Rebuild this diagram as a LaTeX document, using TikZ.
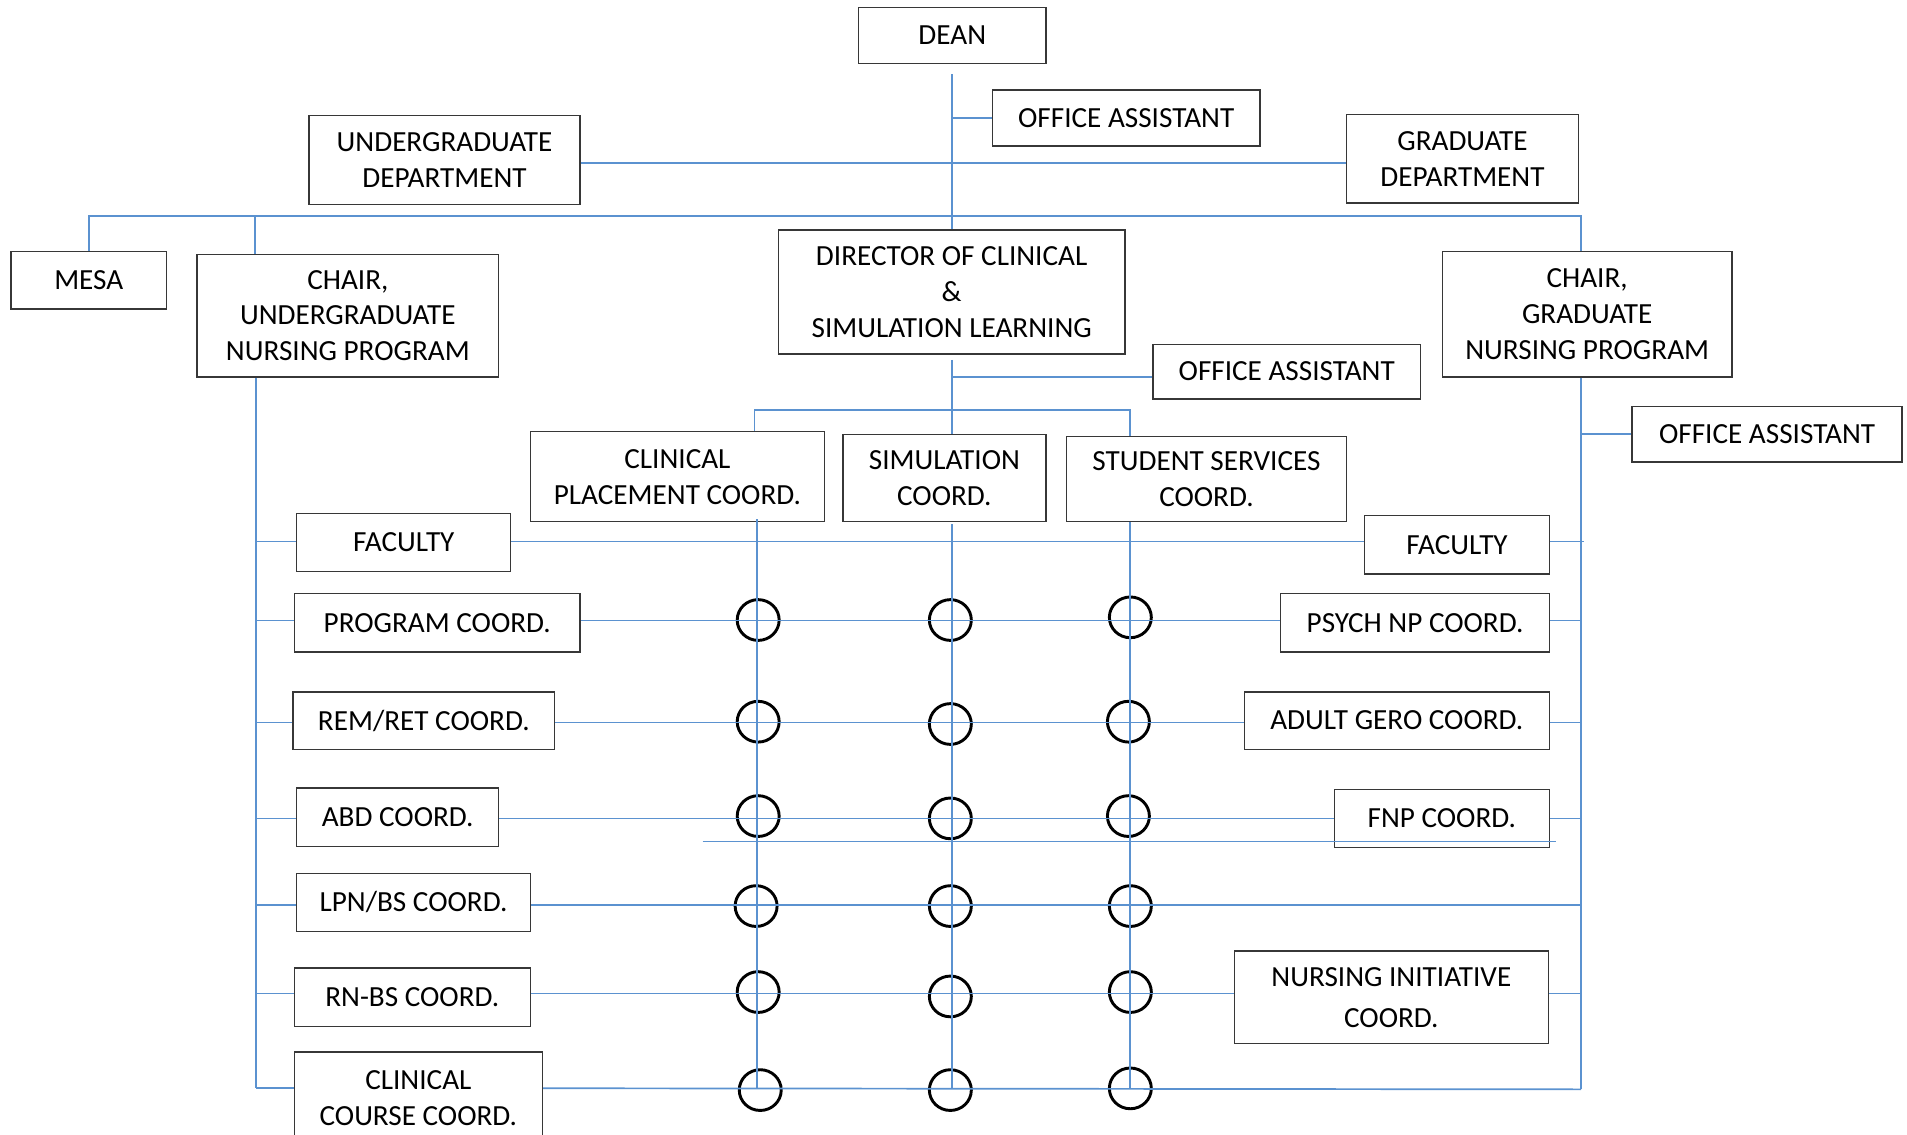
\documentclass[tikz,border=0pt]{standalone}
\usepackage{fontspec}
\setmainfont{Carlito}
\usetikzlibrary{shapes.geometric}
\definecolor{ln}{RGB}{91,146,208}
\definecolor{bd}{RGB}{55,55,55}
\newcommand{\bx}[6]{%
  \pgfmathsetmacro{\bxcx}{(#2+#4)/2}%
  \pgfmathsetmacro{\bxcy}{(#3+#5)/2}%
  \pgfmathsetmacro{\bxw}{#4-#2}%
  \pgfmathsetmacro{\bxh}{#5-#3}%
  \node[box, minimum width=\bxw pt, minimum height=\bxh pt] (#1) at (\bxcx,\bxcy) {#6};}
\begin{document}
\begin{tikzpicture}[x=1pt,y=-1pt,
  box/.style={draw=bd, line width=1.1pt, inner sep=0pt, align=center,
              font=\fontsize{24}{29.5}\selectfont},
  conn/.style={draw=ln, line width=1.4pt},
  ring/.style={ellipse, draw=black, line width=2.4pt, minimum width=34.5,
               minimum height=33.5, inner sep=0pt}]
\useasboundingbox (0,0) rectangle (1568,933);
\clip (0,0) rectangle (1568,933);

% ---------- boxes ----------
\bx{dean}{706}{6}{860}{52}{DEAN}
\bx{oa1}{816}{74}{1036}{120}{OFFICE ASSISTANT}
\bx{ud}{254}{95}{477}{168}{UNDERGRADUATE\\DEPARTMENT}
\bx{gd}{1107}{94}{1298}{167}{GRADUATE\\DEPARTMENT}
\bx{mesa}{9}{207}{137}{254}{MESA}
\bx{cu}{162}{209}{410}{310}{CHAIR,\\UNDERGRADUATE\\NURSING PROGRAM}
\bx{dir}{640}{189}{925}{291}{DIRECTOR OF CLINICAL\\\&\\SIMULATION LEARNING}
\bx{oa2}{948}{283}{1168}{328}{OFFICE ASSISTANT}
\bx{cg}{1186}{207}{1424}{310}{CHAIR,\\GRADUATE\\NURSING PROGRAM}
\bx{oa3}{1342}{334}{1564}{380}{OFFICE ASSISTANT}
\bx{cp}{436}{355}{678}{429}{CLINICAL\\PLACEMENT COORD.}
\bx{sim}{693}{357}{860}{429}{SIMULATION\\COORD.}
\bx{ss}{877}{359}{1107}{429}{STUDENT SERVICES\\COORD.}
\bx{facL}{244}{422}{420}{470}{FACULTY}
\bx{facR}{1122}{424}{1274}{472}{FACULTY}
\bx{prog}{242}{488}{477}{536}{PROGRAM COORD.}
\bx{psych}{1053}{488}{1274}{536}{PSYCH NP COORD.}
\bx{rem}{241}{569}{456}{616}{REM/RET COORD.}
\bx{gero}{1023}{569}{1274}{616}{ADULT GERO COORD.}
\bx{abd}{244}{648}{410}{696}{ABD COORD.}
\bx{fnp}{1097}{649}{1274}{697}{FNP COORD.}
\bx{lpn}{244}{718}{436}{766}{LPN/BS COORD.}
\bx{rnbs}{242}{796}{436}{844}{RN-BS COORD.}
\bx{ni}{1015}{782}{1273}{858}{NURSING INITIATIVE\\[4pt]COORD.}
\bx{cc}{242}{865}{446}{941}{CLINICAL\\COURSE COORD.}

% ---------- rings ----------
\node[ring] (r11) at (623.4,509.8) {};
\node[ring] (r12) at (781.4,509.8) {};
\node[ring] (r13) at (929.4,507.6) {};
\node[ring] (r21) at (623.4,593.4) {};
\node[ring] (r22) at (781.4,595.3) {};
\node[ring] (r23) at (927.8,593.4) {};
\node[ring] (r31) at (623.4,671.0) {};
\node[ring] (r32) at (781.4,672.9) {};
\node[ring] (r33) at (927.8,671.0) {};
\node[ring] (r41) at (621.7,745.0) {};
\node[ring] (r42) at (781.4,745.0) {};
\node[ring] (r43) at (929.4,745.0) {};
\node[ring] (r51) at (623.4,815.7) {};
\node[ring] (r52) at (781.4,819.3) {};
\node[ring] (r53) at (929.4,815.7) {};
\node[ring] (r61) at (625.1,896.3) {};
\node[ring] (r62) at (781.4,896.3) {};
\node[ring] (r63) at (929.4,894.9) {};

% ---------- junction coordinates ----------
\coordinate (deanstem) at (783,61);
\coordinate (deptline) at (0,134.3);
\coordinate (bigbar) at (0,177.6);
\coordinate (lv) at (210.5,0);
\coordinate (rv) at (1300,0);
\coordinate (rvend) at (1300,895.7);
\coordinate (cujoin) at (209.4,0);
\coordinate (dstem) at (782.8,296);
\coordinate (oa2line) at (0,310.2);
\coordinate (c1) at (620.4,337.1);
\coordinate (c3) at (929.1,337.1);
\coordinate (k1t) at (622.5,427);
\coordinate (k1b) at (622.5,895.7);
\coordinate (k2t) at (782.8,431);
\coordinate (k2b) at (782.8,895);
\coordinate (k3t) at (929.1,429.5);
\coordinate (k3b) at (929.1,895);
\coordinate (yfac) at (0,445.2);
\coordinate (yprog) at (0,510.3);
\coordinate (yrem) at (0,594);
\coordinate (yabd) at (0,673);
\coordinate (ylpn) at (0,744.2);
\coordinate (yrn) at (0,817);
\coordinate (ycc) at (0,894.8);
\coordinate (yoa3) at (0,356.6);
\coordinate (xa) at (577.7,691.8);
\coordinate (xb) at (1279,691.8);

% ---------- connectors ----------
\draw[conn] (deanstem) -- (dir.north -| deanstem);
\draw[conn] (deanstem |- oa1.west) -- (oa1.west);
\draw[conn] (ud.east |- deptline) -- (gd.west |- deptline);
\draw[conn] (mesa.north) -- (mesa.north |- bigbar) -- (rv |- bigbar) -- (rv |- cg.north);
\draw[conn] (cujoin |- bigbar) -- (cujoin |- cu.north);
\draw[conn] (dstem) -- (dstem |- sim.north);
\draw[conn] (dstem |- oa2line) -- (oa2.west |- oa2line);
\draw[conn] (c1 |- cp.north) -- (c1) -- (c3) -- (c3 |- ss.north);
\draw[conn] (k1t) -- (k1b);
\draw[conn] (k2t) -- (k2b);
\draw[conn] (k3t) -- (k3b);
% left spine and branches
\draw[conn] (lv |- cu.south) -- (lv |- ycc);
\draw[conn] (lv |- yfac) -- (facL.west |- yfac);
\draw[conn] (lv |- yprog) -- (prog.west |- yprog);
\draw[conn] (lv |- yrem) -- (rem.west |- yrem);
\draw[conn] (lv |- yabd) -- (abd.west |- yabd);
\draw[conn] (lv |- ylpn) -- (lpn.west |- ylpn);
\draw[conn] (lv |- yrn) -- (rnbs.west |- yrn);
\draw[conn] (lv |- ycc) -- (cc.west |- ycc);
% right spine and branches
\draw[conn] (rv |- cg.south) -- (rvend);
\draw[conn] (rv |- yoa3) -- (oa3.west |- yoa3);
\draw[conn] (facR.east |- yfac) -- ([xshift=2]rv |- yfac);
\draw[conn] (psych.east |- yprog) -- (rv |- yprog);
\draw[conn] (gero.east |- yrem) -- (rv |- yrem);
\draw[conn] (fnp.east |- yabd) -- (rv |- yabd);
\draw[conn] (ni.east |- yrn) -- (rv |- yrn);
% cross rows
\draw[conn] (facL.east |- yfac) -- (facR.west |- yfac);
\draw[conn] (prog.east |- yprog) -- (psych.west |- yprog);
\draw[conn] (rem.east |- yrem) -- (gero.west |- yrem);
\draw[conn] (abd.east |- yabd) -- (fnp.west |- yabd);
\draw[conn] (xa) -- (xb);
\draw[conn] (lpn.east |- ylpn) -- (rv |- ylpn);
\draw[conn] (rnbs.east |- yrn) -- (ni.west |- yrn);
\draw[conn] (cc.east |- ycc) -- (rvend);
\end{tikzpicture}
\end{document}
